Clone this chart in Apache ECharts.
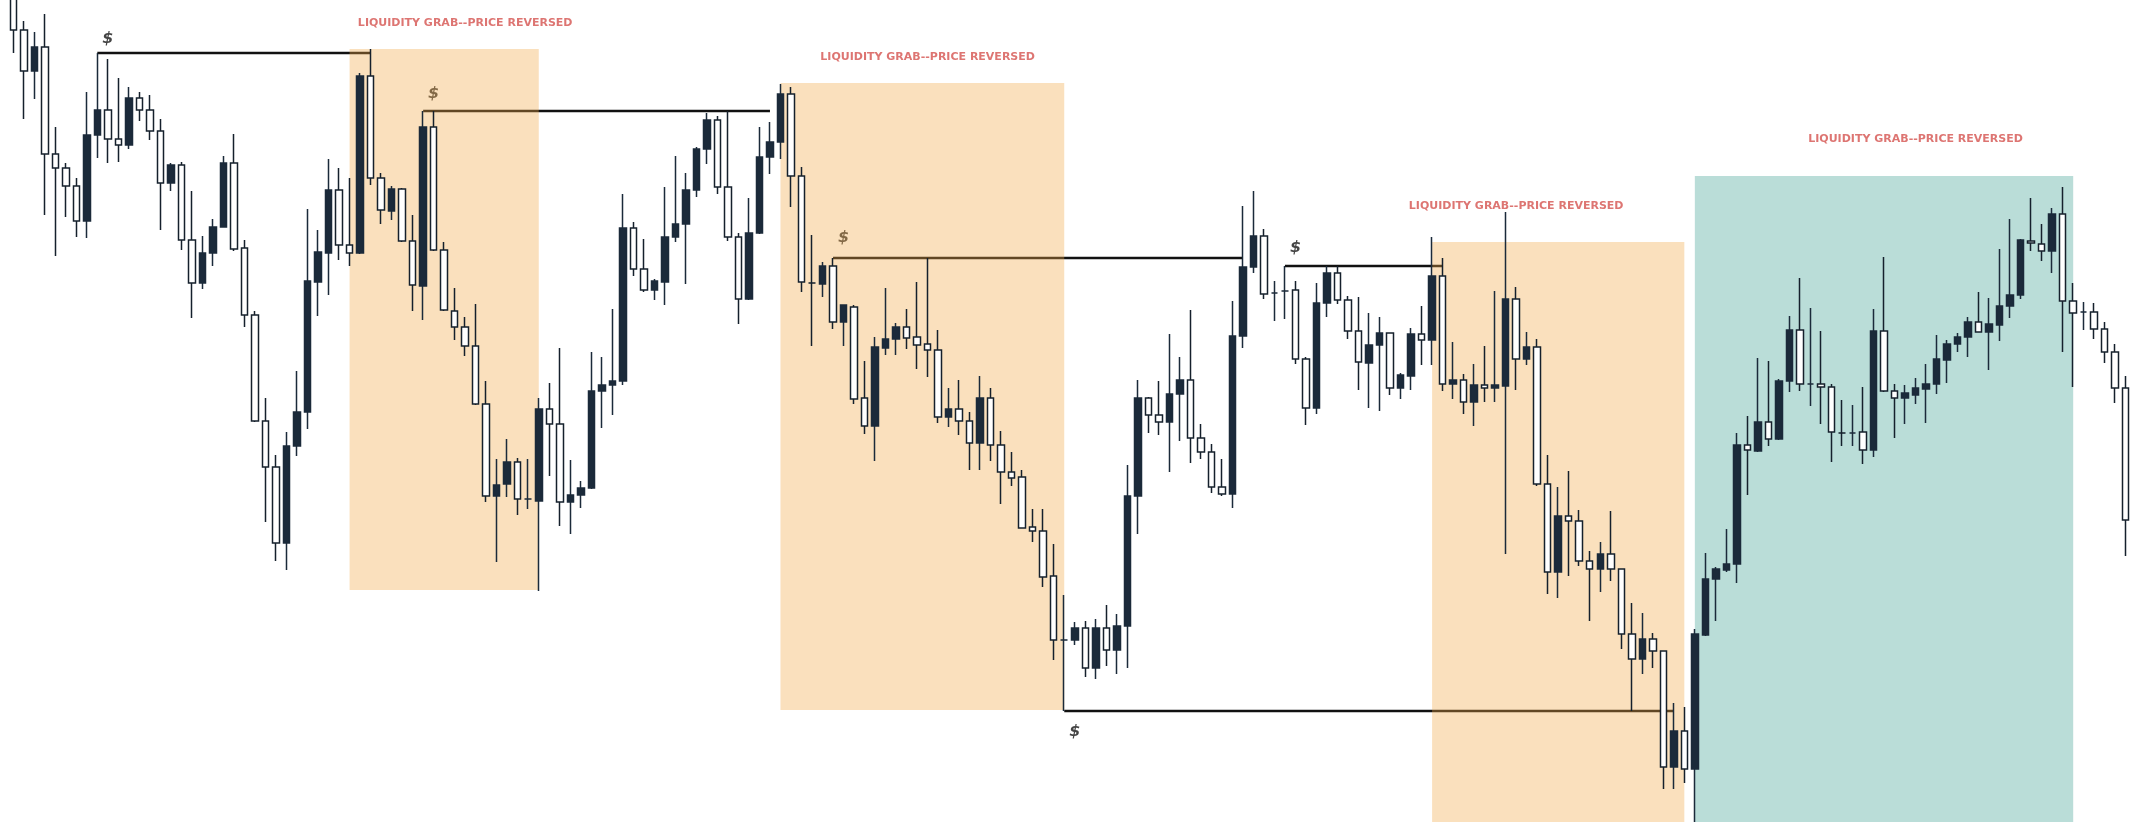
<!DOCTYPE html>
<html>
<head>
<meta charset="utf-8">
<script src="https://cdn.jsdelivr.net/npm/echarts@6/dist/echarts.min.js"></script>
<style>
html,body{margin:0;padding:0;background:#ffffff;}
#chart{width:2136px;height:822px;}
</style>
</head>
<body>
<div id="chart"></div>
<script>
// ---- candle values (price points) ----
const opens = [830,792,751,775,668,654,636,601,687,712,683,677,724,712,691,639,657,582,539,569,
595,659,574,507,401,355,279,376,410,540,569,632,577,569,746,644,611,633,581,536,
695,572,511,495,476,418,326,338,360,323,321,413,398,320,327,334,431,437,441,594,
553,532,540,585,598,632,673,702,635,585,523,589,665,680,728,646,539,538,556,500,
515,424,396,474,483,495,485,478,472,405,413,401,379,424,377,350,345,295,291,246,
182,182,194,154,194,172,196,326,424,407,400,428,442,384,370,335,328,486,555,586,
529,531,532,463,414,519,549,522,491,459,477,489,434,446,488,482,546,438,442,420,
437,434,436,523,463,475,338,250,306,301,261,253,268,253,188,163,183,171,55,91,
53,187,243,252,258,377,371,400,383,441,492,438,438,435,389,389,390,372,491,431,
424,427,433,438,462,478,485,500,490,497,516,527,581,578,571,608,521,510,510,493,
470,434];
const closes = [792,751,775,668,654,636,601,687,712,683,677,724,712,691,639,657,582,539,569,595,
659,573,507,401,355,279,376,410,541,570,632,577,569,746,644,612,633,581,537,695,
572,512,495,476,418,326,337,360,323,323,413,398,320,327,334,431,437,441,594,553,
532,541,585,598,632,673,702,635,585,523,589,665,680,728,646,540,539,556,500,517,
423,396,475,483,495,484,477,472,405,413,401,379,424,377,350,344,294,291,245,182,
182,194,154,194,172,196,326,424,407,400,428,442,384,370,335,328,486,555,586,528,
529,531,463,414,519,549,522,491,460,477,489,434,447,488,482,546,438,442,420,437,
434,437,523,463,475,338,250,306,301,261,253,268,253,188,163,183,171,55,91,53,
188,243,253,258,377,372,400,383,441,492,438,438,435,390,389,389,372,491,431,424,
429,434,438,463,478,485,500,490,498,516,527,582,579,571,608,521,509,510,493,470,
434,302];
const lows = [769,703,723,607,566,605,585,584,664,659,660,673,701,682,592,631,572,504,533,556,
595,571,495,400,300,261,252,366,393,506,527,562,556,568,637,598,602,580,511,502,
571,511,482,466,417,320,260,325,307,313,231,346,296,288,314,333,394,407,437,546,
530,522,517,580,538,625,658,628,581,498,522,588,648,663,615,530,476,525,493,476,
418,388,361,467,467,473,453,445,399,395,387,352,352,361,318,336,294,280,235,162,
111,177,145,143,156,148,154,288,389,387,350,381,359,363,329,326,314,474,549,523,
501,503,458,397,408,505,518,483,432,414,411,427,423,432,457,457,431,423,408,396,
420,420,268,432,457,336,228,224,246,256,201,230,241,173,111,148,154,33,33,39,
0,186,201,250,239,327,370,376,382,430,431,416,398,360,376,376,358,365,430,384,
398,418,399,428,439,470,465,490,452,481,504,523,571,561,549,470,435,492,483,459,
419,266];
const highs = [835,801,790,808,695,659,644,730,769,763,744,735,730,727,703,659,660,631,586,603,
666,688,582,511,424,367,390,451,613,592,663,654,644,749,773,649,636,634,607,711,
711,580,534,505,518,441,363,383,364,363,424,439,474,362,341,470,465,513,628,600,
583,543,635,666,649,675,709,706,711,589,624,695,700,738,735,655,587,560,564,517,
517,461,485,534,499,513,540,564,492,434,442,410,446,434,391,370,352,313,313,278,
227,200,201,203,217,208,357,442,425,441,488,465,512,398,378,363,521,616,631,593,
541,556,541,465,539,556,556,526,525,509,505,489,449,494,516,585,564,480,448,458,
476,531,610,535,490,483,367,335,351,312,271,280,311,253,219,209,189,171,119,115,
193,269,255,293,389,406,464,461,443,506,544,514,491,438,422,417,435,513,565,438,
437,444,458,487,482,489,505,530,524,573,603,583,624,598,614,635,539,520,519,500,
478,446];
const categories = opens.map((_, i) => 'Bar ' + (i + 1));

// ---- annotations (bar index / price) ----
const levelLines = [
  {from: 8, to: 34, price: 769},
  {from: 39, to: 72, price: 711},
  {from: 78, to: 117, price: 564},
  {from: 100, to: 158, price: 111},
  {from: 121, to: 136, price: 556}
];
const zones = [
  {from: 32, to: 50, top: 773, bottom: 232, kind: 'grab'},
  {from: 73, to: 100, top: 739, bottom: 112, kind: 'grab'},
  {from: 135, to: 159, top: 580, bottom: 0, kind: 'grab'},
  {from: 160, to: 196, top: 646, bottom: 0, kind: 'reversal'}
];
const zoneLabels = [
  {at: 43, price: 799, text: 'LIQUIDITY GRAB--PRICE REVERSED'},
  {at: 87, price: 765, text: 'LIQUIDITY GRAB--PRICE REVERSED'},
  {at: 143, price: 616, text: 'LIQUIDITY GRAB--PRICE REVERSED'},
  {at: 181, price: 683, text: 'LIQUIDITY GRAB--PRICE REVERSED'}
];
const dollarMarks = [
  {at: 9, price: 783},
  {at: 40, price: 728},
  {at: 79, price: 584},
  {at: 122, price: 574},
  {at: 101, price: 90}
];

const zoneColor = {grab: 'rgba(242,168,72,0.36)', reversal: 'rgba(0,128,112,0.27)'};
const dark = '#1b2a3a';

const series = [];
levelLines.forEach(l => {
  series.push({
    type: 'line', z: 1, symbol: 'none', silent: true, animation: false,
    data: [[l.from, l.price], [l.to, l.price]],
    lineStyle: {color: '#111111', width: 2.5}
  });
});
series.push({
  type: 'scatter', z: 1, silent: true, symbolSize: 1,
  itemStyle: {color: 'rgba(0,0,0,0)'},
  data: dollarMarks.map(d => [d.at, d.price]),
  label: {show: true, position: 'inside', formatter: '$', fontFamily: 'DejaVu Sans',
          fontWeight: 'bold', fontStyle: 'italic', fontSize: 16, color: '#151515'}
});
series.push({
  type: 'line', z: 2, data: [], silent: true,
  markArea: {
    z: 2, silent: true,
    data: zones.map(zn => [
      {coord: [zn.from, zn.top], itemStyle: {color: zoneColor[zn.kind], borderWidth: 0}},
      {coord: [zn.to, zn.bottom]}
    ])
  }
});
series.push({
  type: 'candlestick', z: 3, silent: true,
  barWidth: 7,
  data: opens.map((o, i) => [o, closes[i], lows[i], highs[i]]),
  itemStyle: {
    color: dark, color0: '#ffffff',
    borderColor: dark, borderColor0: '#15202c',
    borderWidth: 1.5
  }
});
series.push({
  type: 'scatter', z: 5, silent: true, symbolSize: 1,
  itemStyle: {color: 'rgba(0,0,0,0)'},
  data: zoneLabels.map(l => ({value: [l.at, l.price], name: l.text})),
  label: {show: true, position: 'inside', formatter: p => p.name,
          fontFamily: 'DejaVu Sans', fontWeight: 'bold', fontSize: 11, color: '#d5534f'}
});

const chart = echarts.init(document.getElementById('chart'), null, {renderer: 'canvas'});
chart.setOption({
  animation: false,
  backgroundColor: '#ffffff',
  grid: {left: 8, right: 5, top: 0, bottom: 0},
  xAxis: {type: 'category', data: categories, boundaryGap: true, show: false},
  yAxis: {type: 'value', min: 0, max: 822, show: false, splitLine: {show: false}},
  series: series
});
</script>
</body>
</html>
